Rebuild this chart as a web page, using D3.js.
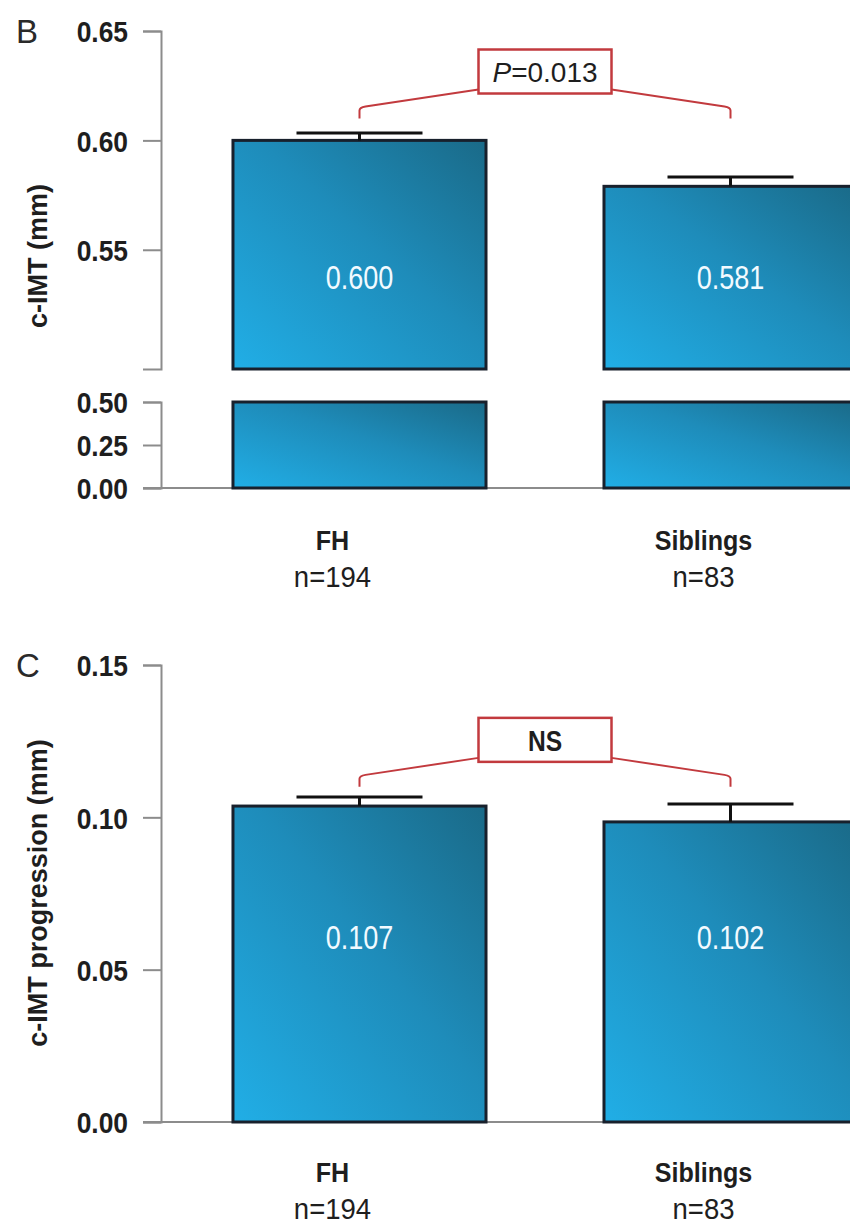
<!DOCTYPE html>
<html>
<head>
<meta charset="utf-8">
<script src="https://cdn.jsdelivr.net/npm/d3@7"></script>
<style>
  html, body { margin: 0; padding: 0; background: #fff; }
  svg { display: block; }
</style>
</head>
<body>
<div id="chart"></div>
<script>
const WIDTH = 850;
const HEIGHT = 1228;

// groups shared by both panels
const groups = ['FH', 'Siblings'];
const groupN = ['n=194', 'n=83'];

// panel B: c-IMT (mm), bar tops and whisker tops as drawn
const imtMeans = [0.600, 0.579];
const imtErrTop = [0.6034, 0.5833];
const imtLabels = ['0.600', '0.581'];
const imtTicks = [0.55, 0.60, 0.65];
const imtLowTicks = [0.00, 0.25, 0.50];

// panel C: c-IMT progression (mm)
const progMeans = [0.1037, 0.0985];
const progErrTop = [0.1067, 0.1044];
const progLabels = ['0.107', '0.102'];
const progTicks = [0.00, 0.05, 0.10, 0.15];

const RED = '#c23a3e';
const AXIS = '#8c8c8c';
const BAR_STROKE = '#18202c';
const FONT = '"Liberation Sans", Arial, Helvetica, sans-serif';
const AXIS_X = 161;
const TICK = 18;

const svg = d3.select('#chart')
  .append('svg')
  .attr('width', WIDTH)
  .attr('height', HEIGHT)
  .style('font-family', FONT);

const grad = svg.append('defs')
  .append('linearGradient')
  .attr('id', 'barFill')
  .attr('x1', 0).attr('y1', 1)
  .attr('x2', 1).attr('y2', 0);
grad.append('stop').attr('offset', '0%').attr('stop-color', '#21aee6');
grad.append('stop').attr('offset', '55%').attr('stop-color', '#1e8cba');
grad.append('stop').attr('offset', '100%').attr('stop-color', '#1a6a88');

const x = d3.scaleBand()
  .domain(groups)
  .range([AXIS_X, 929])
  .paddingInner(0.318)
  .paddingOuter(0.194);
const cx = (g) => x(g) + x.bandwidth() / 2;

// no narrow face installed, so squeeze text horizontally
const squeeze = (px, py, s) => `translate(${px},${py}) scale(${s},1)`;

const drawAxis = (scale, ticks) => {
  const g = svg.append('g')
    .attr('transform', `translate(${AXIS_X},0)`)
    .call(
      d3.axisLeft(scale)
        .tickValues(ticks)
        .tickSize(TICK)
        .tickFormat(d3.format('.2f')),
    );
  g.select('.domain').attr('stroke', AXIS).attr('stroke-width', 2).attr('fill', 'none');
  g.selectAll('.tick line').attr('stroke', AXIS).attr('stroke-width', 2);
  g.selectAll('.tick text')
    .attr('x', null)
    .attr('dy', '0.36em')
    .attr('transform', squeeze(-33, 0, 0.88))
    .attr('fill', '#1e1e1e')
    .style('font-family', FONT)
    .style('font-weight', 'bold')
    .style('font-size', '30px');
  return g;
};

const drawBars = (scale, values, bottom) => {
  svg.append('g')
    .selectAll('rect')
    .data(groups)
    .join('rect')
    .attr('x', (d) => x(d))
    .attr('width', x.bandwidth())
    .attr('y', (d, i) => scale(values[i]))
    .attr('height', (d, i) => bottom - scale(values[i]))
    .attr('fill', 'url(#barFill)')
    .attr('stroke', BAR_STROKE)
    .attr('stroke-width', 3);
};

const drawErrors = (scale, values, tops) => {
  const g = svg.append('g').attr('stroke', '#111').attr('stroke-width', 3);
  g.selectAll('line.stem')
    .data(groups)
    .join('line')
    .attr('class', 'stem')
    .attr('x1', cx).attr('x2', cx)
    .attr('y1', (d, i) => scale(values[i]))
    .attr('y2', (d, i) => scale(tops[i]));
  g.selectAll('line.cap')
    .data(groups)
    .join('line')
    .attr('class', 'cap')
    .attr('x1', (d) => cx(d) - 63)
    .attr('x2', (d) => cx(d) + 63)
    .attr('y1', (d, i) => scale(tops[i]))
    .attr('y2', (d, i) => scale(tops[i]));
};

const drawValueLabels = (y, labels) => {
  svg.append('g')
    .selectAll('text')
    .data(groups)
    .join('text')
    .attr('transform', (d) => squeeze(cx(d), y, 0.82))
    .attr('dy', '0.36em')
    .attr('text-anchor', 'middle')
    .attr('fill', '#f2faff')
    .style('font-size', '33px')
    .text((d, i) => labels[i]);
};

const drawGroupLabels = (baseY) => {
  const g = svg.append('g').attr('fill', '#1e1e1e').attr('text-anchor', 'middle');
  g.selectAll('text.name')
    .data(groups)
    .join('text')
    .attr('class', 'name')
    .attr('transform', (d) => squeeze(cx(d) - 27, baseY, 0.93))
    .style('font-weight', 'bold')
    .style('font-size', '27px')
    .text((d) => d);
  g.selectAll('text.n')
    .data(groups)
    .join('text')
    .attr('class', 'n')
    .attr('transform', (d) => squeeze(cx(d) - 27, baseY + 37, 0.95))
    .style('font-size', '29px')
    .text((d, i) => groupN[i]);
};

const drawBracket = (legBottom, build) => {
  const x1 = cx(groups[0]);
  const x2 = cx(groups[1]);
  const mid = (x1 + x2) / 2;
  const boxW = 133;
  const boxH = 44;
  const boxBottom = legBottom - 25;
  const corner = legBottom - 11;
  const joint = boxBottom - 4;
  const g = svg.append('g');
  g.append('path')
    .attr('fill', 'none')
    .attr('stroke', RED)
    .attr('stroke-width', 2)
    .attr('d', `M${x1},${legBottom} L${x1},${corner + 3} Q${x1},${corner} ${x1 + 6},${corner - 1} L${mid - boxW / 2},${joint}` +
      ` M${mid + boxW / 2},${joint} L${x2 - 6},${corner - 1} Q${x2},${corner} ${x2},${corner + 3} L${x2},${legBottom}`);
  g.append('rect')
    .attr('x', mid - boxW / 2)
    .attr('y', boxBottom - boxH)
    .attr('width', boxW)
    .attr('height', boxH)
    .attr('fill', '#fff')
    .attr('stroke', RED)
    .attr('stroke-width', 2.5);
  build(g, mid, boxBottom - boxH / 2);
};

const drawYTitle = (text, cy) => {
  svg.append('text')
    .attr('transform', `translate(47,${cy}) rotate(-90)`)
    .attr('text-anchor', 'middle')
    .attr('fill', '#1e1e1e')
    .style('font-weight', 'bold')
    .style('font-size', '27px')
    .text(text);
};

const drawPanelLetter = (letter, y) => {
  svg.append('text')
    .attr('x', 16)
    .attr('y', y)
    .attr('fill', '#2a2a2a')
    .style('font-size', '33px')
    .text(letter);
};

const drawBaseline = (y) => {
  svg.append('line')
    .attr('x1', AXIS_X - TICK).attr('x2', WIDTH)
    .attr('y1', y).attr('y2', y)
    .attr('stroke', AXIS)
    .attr('stroke-width', 2);
};

// ---- panel B (broken axis)
const yB = d3.scaleLinear().domain([0.4955, 0.65]).range([369, 31]);
const yBLow = d3.scaleLinear().domain([0, 0.5]).range([488, 402]);

drawAxis(yB, imtTicks);
drawAxis(yBLow, imtLowTicks);
drawBaseline(yBLow(0));
drawBars(yB, imtMeans, yB.range()[0]);
drawBars(yBLow, groups.map(() => 0.5), yBLow(0));
drawErrors(yB, imtMeans, imtErrTop);
drawValueLabels(yB(0.5375), imtLabels);
drawBracket(yB(0.610), (g, mx, my) => {
  const t = g.append('text')
    .attr('x', mx)
    .attr('y', my)
    .attr('dy', '0.36em')
    .attr('text-anchor', 'middle')
    .attr('fill', '#1e1e1e')
    .style('font-size', '28px');
  t.append('tspan').style('font-style', 'italic').text('P');
  t.append('tspan').text('=0.013');
});
drawGroupLabels(550);
drawYTitle('c-IMT (mm)', 256);
drawPanelLetter('B', 43);

// ---- panel C
const yC = d3.scaleLinear().domain([0, 0.15]).range([1122, 665]);

drawAxis(yC, progTicks);
drawBaseline(yC(0));
drawBars(yC, progMeans, yC(0));
drawErrors(yC, progMeans, progErrTop);
drawValueLabels(yC(0.0607), progLabels);
drawBracket(yC(0.110), (g, mx, my) => {
  g.append('text')
    .attr('transform', squeeze(mx, my, 0.82))
    .attr('dy', '0.36em')
    .attr('text-anchor', 'middle')
    .attr('fill', '#1e1e1e')
    .style('font-weight', 'bold')
    .style('font-size', '30px')
    .text('NS');
});
drawGroupLabels(1182);
drawYTitle('c-IMT progression (mm)', 893);
drawPanelLetter('C', 677);
</script>
</body>
</html>
